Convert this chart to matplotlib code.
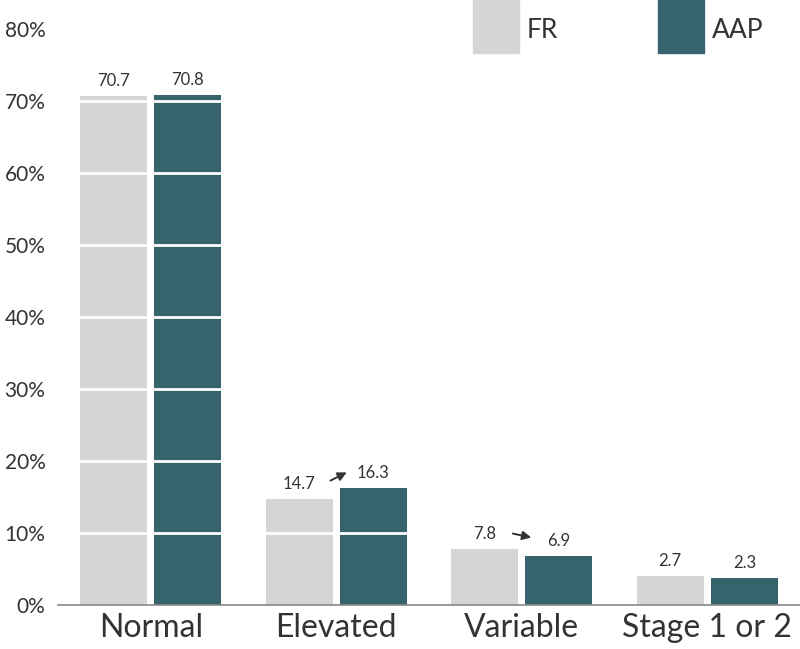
import matplotlib
matplotlib.use("Agg")
import matplotlib.pyplot as plt
from matplotlib.patches import Rectangle
import numpy as np

plt.rcParams['font.family'] = ['Lato', 'DejaVu Sans']

# data
categories = ["Normal", "Elevated", "Variable", "Stage 1 or 2"]
fr_heights = [70.7, 14.7, 7.8, 4.0]
aap_heights = [70.8, 16.3, 6.8, 3.8]
fr_labels = ["70.7", "14.7", "7.8", "2.7"]
aap_labels = ["70.8", "16.3", "6.9", "2.3"]
series_names = ["FR", "AAP"]

fr_color = "#d5d5d5"
aap_color = "#37636d"
text_color = "#333333"

fig = plt.figure(figsize=(8, 6.49), dpi=100)
ax = fig.add_axes([0.0725, 0.0678, 0.9275, 0.8875])

x = np.arange(len(categories))
w = 0.36
b1 = ax.bar(x - 0.2, fr_heights, w, color=fr_color, zorder=1)
b2 = ax.bar(x + 0.2, aap_heights, w, color=aap_color, zorder=1)

# value labels
for bars, labels in ((b1, fr_labels), (b2, aap_labels)):
    for rect, lab in zip(bars, labels):
        ax.annotate(lab, (rect.get_x() + rect.get_width() / 2, rect.get_height()),
                    xytext=(0, 5), textcoords="offset points",
                    ha="center", va="bottom", fontsize=12, color=text_color)

# arrows showing the change
arrow_kw = dict(arrowstyle="-|>", color="#333333", lw=1.4, mutation_scale=13)
ax.annotate("", xy=(1.07, 18.6), xytext=(0.955, 17.1), arrowprops=arrow_kw)
ax.annotate("", xy=(2.066, 9.3), xytext=(1.937, 10.0), arrowprops=arrow_kw)

# white grid lines across the bars
for yv in range(10, 80, 10):
    ax.axhline(yv, color="white", lw=2, zorder=2)

ax.set_xlim(-0.5, 3.5)
ax.set_ylim(0, 80)
ax.set_yticks(range(0, 81, 10))
ax.set_yticklabels([f"{v}%" for v in range(0, 81, 10)])
ax.set_xticks(x)
ax.set_xticklabels(categories)
ax.tick_params(axis="y", length=0, pad=9, labelsize=15, labelcolor=text_color)
ax.tick_params(axis="x", length=0, pad=6, labelsize=23, labelcolor=text_color)

for s in ("top", "right", "left"):
    ax.spines[s].set_visible(False)
ax.spines["bottom"].set_color("#888888")
ax.spines["bottom"].set_linewidth(1.2)
ax.spines["bottom"].set_zorder(3)

# legend drawn as big squares at the top
W, H = 800, 649
for name, col, px in zip(series_names, (fr_color, aap_color), (473, 658)):
    fig.add_artist(Rectangle((px / W, 1 - 53 / H), 46 / W, 53 / H,
                             transform=fig.transFigure, color=col))
    fig.text((px + 54) / W, 1 - 31 / H, name, ha="left", va="center",
             fontsize=19, color=text_color)

fig.savefig("out.png", dpi=100)
